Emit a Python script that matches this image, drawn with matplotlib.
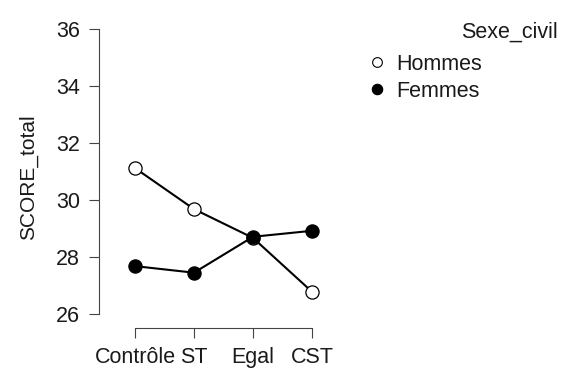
import numpy as np
import matplotlib
matplotlib.use("Agg")
import matplotlib.pyplot as plt
from matplotlib.lines import Line2D

plt.rcParams['font.family'] = ['Liberation Sans', 'DejaVu Sans']

# donnees
categories = ["Contrôle", "ST", "Egal", "CST"]
hommes = [31.12, 29.68, 28.67, 26.78]
femmes = [27.68, 27.45, 28.71, 28.92]
y_ticks = [26, 28, 30, 32, 34, 36]

fig = plt.figure(figsize=(5.68, 3.69), dpi=100)
ax = fig.add_axes([0.1743, 0.1104, 0.4062, 0.8187])

x = np.arange(len(categories))
ax.plot(x, hommes, color='black', lw=1.5, marker='o', ms=9.5,
        mfc='white', mec='black', mew=0.9, zorder=3)
ax.plot(x, femmes, color='black', lw=1.5, marker='o', ms=9.5,
        mfc='black', mec='black', mew=0.9, zorder=4)

ax.set_xlim(-0.61, 3.3)
ax.set_ylim(25.5, 36.1)
ax.set_xticks(x)
ax.set_xticklabels(categories)
ax.set_yticks(y_ticks)

for s in ['top', 'right']:
    ax.spines[s].set_visible(False)
ax.spines['left'].set_bounds(26, 36)
ax.spines['bottom'].set_bounds(0, 3)
for s in ['left', 'bottom']:
    ax.spines[s].set_color('#444444')
    ax.spines[s].set_linewidth(0.8)
ax.tick_params(length=7.2, width=0.8, color='#444444', pad=6.5,
               labelsize=15.5, labelcolor='#1a1a1a')
ax.set_ylabel("SCORE_total", fontsize=15, labelpad=13, color='#1a1a1a')

# legende
fig.text(0.982, 0.912, "Sexe_civil", ha='right', va='center',
         fontsize=15.5, color='#1a1a1a')
handles = [Line2D([], [], ls='none', marker='o', ms=7, mfc='white',
                  mec='black', mew=0.8),
           Line2D([], [], ls='none', marker='o', ms=7.5, mfc='black',
                  mec='black', mew=0.8)]
fig.legend(handles, ["Hommes", "Femmes"], loc='upper left',
           bbox_to_anchor=(0.652, 0.855), frameon=False, fontsize=15.5,
           handlelength=0.6, handletextpad=0.6, labelspacing=0.3,
           borderpad=0, borderaxespad=0, labelcolor='#1a1a1a')

fig.savefig("out.png", dpi=100)
